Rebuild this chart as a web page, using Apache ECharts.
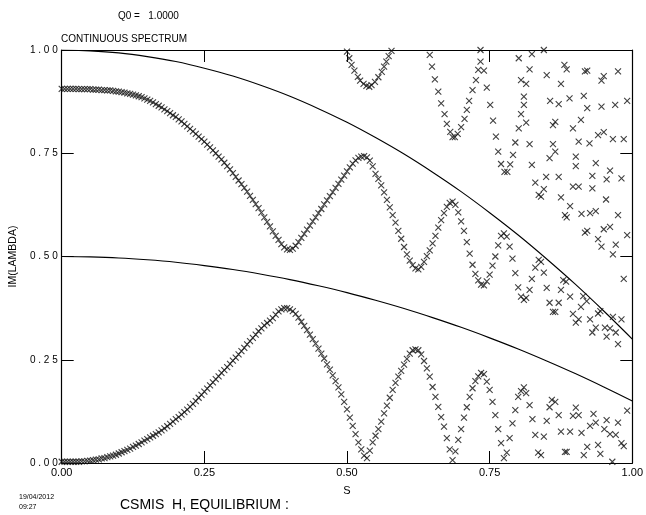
<!DOCTYPE html>
<html>
<head>
<meta charset="utf-8">
<script src="https://cdn.jsdelivr.net/npm/echarts@6/dist/echarts.min.js"></script>
<style>
html,body{margin:0;padding:0;background:#fff;}
#chart{width:646px;height:515px;}
</style>
</head>
<body>
<div id="chart"></div>
<script>
// ---- data ----
const S_STEP = 0.005; // s grid spacing of the traced branches (s = index * step)

// upper oscillating branch, s = 0 ... 0.80
const branchA = [
 .906,.906,.906,.906,.906,.906,.905,.905,.905,.905,
 .905,.904,.904,.904,.903,.903,.902,.902,.901,.900,
 .899,.898,.897,.895,.894,.892,.890,.888,.886,.883,
 .880,.877,.873,.869,.865,.861,.856,.852,.847,.842,
 .838,.832,.827,.821,.815,.809,.803,.797,.790,.784,
 .778,.771,.764,.757,.750,.742,.735,.727,.719,.711,
 .702,.693,.684,.675,.666,.657,.647,.637,.627,.617,
 .606,.595,.584,.573,.561,.550,.540,.530,.522,.517,
 .516,.519,.526,.535,.545,.555,.565,.575,.585,.595,
 .605,.615,.626,.636,.646,.656,.666,.676,.686,.696,
 .706,.716,.725,.733,.739,.742,.743,.740,.732,.718,
 .700,.688,.672,.655,.637,.619,.600,.582,.562,.543,
 .523,.505,.490,.479,.471,.469,.475,.487,.501,.515,
 .532,.550,.570,.588,.605,.620,.630,.633,.625,.607,
 .585,.562,.535,.507,.480,.458,.442,.432,.430,.440,
 .456,.478,.500,.527,.550,.556,.548,.524,.495,.460,
 .425
];

// lower oscillating branch, s = 0 ... 0.80
const branchB = [
 .003,.003,.003,.003,.003,.003,.003,.004,.004,.005,
 .006,.007,.008,.009,.011,.012,.014,.016,.018,.020,
 .023,.026,.029,.032,.035,.039,.042,.046,.050,.054,
 .058,.062,.066,.070,.074,.079,.084,.089,.095,.100,
 .106,.111,.117,.123,.129,.136,.143,.150,.158,.165,
 .173,.180,.188,.195,.203,.210,.218,.225,.232,.240,
 .248,.255,.263,.271,.279,.287,.295,.303,.311,.319,
 .326,.333,.339,.345,.351,.359,.367,.372,.375,.375,
 .372,.368,.361,.352,.342,.332,.322,.311,.300,.289,
 .277,.265,.253,.239,.226,.212,.198,.183,.166,.148,
 .130,.110,.090,.070,.050,.033,.018,.012,.030,.050,
 .066,.082,.100,.120,.139,.158,.177,.194,.209,.223,
 .238,.252,.265,.273,.275,.273,.263,.247,.229,.209,
 .184,.160,.136,.111,.088,.060,.033,.007,.028,.056,
 .082,.110,.135,.160,.181,.198,.210,.218,.215,.197,
 .177,.148,.116,.082,.048,.012,.025,.060,.096,.128,
 .160
];

// first dip from the top edge
const branchC1 = [
 [.500,.996],[.504,.980],[.508,.964],[.513,.950],[.519,.935],[.523,.926],[.529,.918],
 [.534,.913],[.539,.911],[.543,.915],[.549,.923],[.555,.934],[.561,.947],[.565,.960],
 [.569,.972],[.573,.985],[.578,.998]
];

// second dip from the top edge
const branchC2 = [
 [.645,.988],[.649,.960],[.654,.929],[.660,.899],[.665,.871],[.671,.845],[.675,.821],
 [.681,.802],[.685,.789],[.689,.789],[.694,.797],[.700,.813],[.706,.833],[.710,.855],
 [.714,.877],[.720,.903],[.726,.927],[.730,.952],[.734,.972],[.734,1.0],[.740,.950],
 [.745,.909],[.751,.867],[.756,.829],[.761,.790],[.765,.754],[.770,.724],[.776,.705],
 [.781,.705],[.786,.723],[.791,.746],[.795,.776]
];

// scattered eigenvalues, s > 0.8
const clusterTop = [
 [.801,.980],[.824,.990],[.845,1.0],[.820,.953],[.850,.939],[.881,.964],[.885,.953],
 [.917,.948],[.921,.950],[.950,.937],[.946,.926],[.975,.948],[.805,.927],[.814,.918],
 [.875,.918],[.810,.887],[.856,.877],[.871,.869],[.890,.883],[.915,.889],[.921,.859],
 [.946,.863],[.970,.867],[.991,.877],[.810,.867],[.805,.845],[.814,.824],[.801,.810],
 [.861,.818],[.865,.826],[.896,.810],[.910,.831],[.940,.794],[.950,.801],[.966,.784],
 [.985,.784],[.820,.772],[.861,.772],[.906,.778],[.925,.774],[.865,.754],[.855,.738],
 [.901,.742],[.901,.719],[.936,.726],[.824,.722],[.961,.708],[.930,.695],[.955,.687],
 [.981,.689],[.849,.693],[.871,.693],[.830,.679],[.845,.663],[.836,.649],[.840,.645],
 [.875,.643],[.896,.669],[.906,.669],[.930,.665],[.954,.638],[.891,.622]
];
const clusterMid = [
 [.882,.600],[.885,.595],[.911,.603],[.926,.605],[.936,.610],[.975,.600],[.917,.558],
 [.921,.562],[.950,.566],[.961,.572],[.991,.552],[.940,.542],[.946,.524],[.971,.529],
 [.966,.505],[.830,.473],[.836,.492],[.840,.487],[.845,.461],[.824,.446],[.879,.443],
 [.884,.439],[.985,.446],[.820,.419],[.850,.424],[.875,.419],[.805,.403],[.814,.400],
 [.810,.395],[.891,.403],[.914,.404],[.920,.392],[.910,.378],[.855,.388],[.871,.388],
 [.861,.366],[.865,.366],[.896,.361],[.906,.348],[.901,.340],[.926,.348],[.940,.362],
 [.944,.368],[.966,.354],[.981,.348],[.936,.328],[.930,.316],[.952,.328],[.961,.326],
 [.971,.316],[.955,.306],[.975,.288]
];
const clusterLow = [
 [.805,.174],[.810,.183],[.814,.169],[.820,.140],[.825,.106],[.830,.068],[.835,.025],
 [.840,.019],[.845,.064],[.850,.102],[.855,.135],[.859,.153],[.865,.148],[.871,.116],
 [.875,.076],[.882,.027],[.885,.027],[.891,.076],[.896,.114],[.901,.134],[.906,.116],
 [.911,.073],[.915,.019],[.921,.039],[.926,.090],[.932,.119],[.936,.098],[.940,.044],
 [.944,.022],[.951,.082],[.955,.104],[.961,.070],[.965,.003],[.971,.068],[.975,.098],
 [.981,.048],[.985,.041],[.991,.127]
];

// continuous spectrum boundaries
const curveS = [0,.05,.10,.15,.20,.25,.30,.35,.40,.45,.50,.55,.60,.65,.70,.75,.80,.85,.90,.95,1.00];
const upperContinuum = [1.000,.998,.993,.984,.972,.956,.937,.914,.888,.858,.825,.788,.748,.704,.657,.606,.552,.494,.433,.368,.300];
const lowerContinuum = [.500,.499,.4965,.492,.486,.478,.4685,.457,.444,.429,.4125,.394,.374,.352,.3285,.303,.276,.247,.2165,.184,.150];

// ---- chart ----
const FONT = 'Liberation Sans, Arial, Helvetica, sans-serif';
const chart = echarts.init(document.getElementById('chart'), null, {renderer: 'canvas'});

const gridSeries = arr => arr.map((y, i) => [+(i * S_STEP).toFixed(3), y]);
const markStyle = {
  type: 'scatter',
  symbol: 'path://M0,0L10,10M10,0L0,10',
  symbolSize: 6,
  itemStyle: {color: 'none', borderColor: '#111', borderWidth: 1.1},
  emphasis: {disabled: true},
  silent: true,
  clip: false,
  z: 3
};

const axisCommon = {
  type: 'value', min: 0, max: 1, interval: 0.25,
  axisLine: {show: true, onZero: false, lineStyle: {color: '#000', width: 1.2}},
  axisTick: {show: true, inside: true, length: 12, lineStyle: {color: '#000', width: 1}},
  splitLine: {show: false}
};

chart.setOption({
  animation: false,
  backgroundColor: '#fff',
  grid: {left: 61, right: 10, top: 50, bottom: 52, containLabel: false},
  xAxis: [
    Object.assign({}, axisCommon, {
      position: 'bottom',
      axisLabel: {formatter: v => v.toFixed(2), color: '#000', fontSize: 11, fontFamily: FONT, margin: 4},
      name: 'S', nameLocation: 'middle', nameGap: 22,
      nameTextStyle: {color: '#000', fontSize: 11, fontFamily: FONT}
    }),
    Object.assign({}, axisCommon, {position: 'top', axisLabel: {show: false}})
  ],
  yAxis: [
    Object.assign({}, axisCommon, {
      position: 'left',
      axisLabel: {formatter: v => v.toFixed(2).split('').join(' '), color: '#000', fontSize: 10, fontFamily: FONT, margin: 4},
      name: 'IM(LAMBDA)', nameLocation: 'middle', nameGap: 33,
      nameTextStyle: {color: '#000', fontSize: 10.5, fontFamily: FONT}
    }),
    Object.assign({}, axisCommon, {position: 'right', axisLabel: {show: false}})
  ],
  graphic: [
    {type: 'text', left: 118, top: 11, style: {text: 'Q0 =   1.0000', fontSize: 10, fontFamily: FONT, fill: '#000'}},
    {type: 'text', left: 61, top: 34, style: {text: 'CONTINUOUS SPECTRUM', fontSize: 10, fontFamily: FONT, fill: '#000'}},
    {type: 'text', left: 19, top: 494, style: {text: '19/04/2012', fontSize: 7, fontFamily: FONT, fill: '#000'}},
    {type: 'text', left: 19, top: 504, style: {text: '09:27', fontSize: 7, fontFamily: FONT, fill: '#000'}},
    {type: 'text', left: 120, top: 498, style: {text: 'CSMIS  H, EQUILIBRIUM :', fontSize: 14, fontFamily: FONT, fill: '#000'}}
  ],
  series: [
    {type: 'line', data: curveS.map((s, i) => [s, upperContinuum[i]]), smooth: 0.3, showSymbol: false,
     lineStyle: {color: '#000', width: 1.1}, silent: true, z: 2},
    {type: 'line', data: curveS.map((s, i) => [s, lowerContinuum[i]]), smooth: 0.3, showSymbol: false,
     lineStyle: {color: '#000', width: 1.1}, silent: true, z: 2},
    Object.assign({name: 'A', data: gridSeries(branchA)}, markStyle),
    Object.assign({name: 'B', data: gridSeries(branchB)}, markStyle),
    Object.assign({name: 'C1', data: branchC1}, markStyle),
    Object.assign({name: 'C2', data: branchC2}, markStyle),
    Object.assign({name: 'top', data: clusterTop}, markStyle),
    Object.assign({name: 'mid', data: clusterMid}, markStyle),
    Object.assign({name: 'low', data: clusterLow}, markStyle)
  ]
});
</script>
</body>
</html>
